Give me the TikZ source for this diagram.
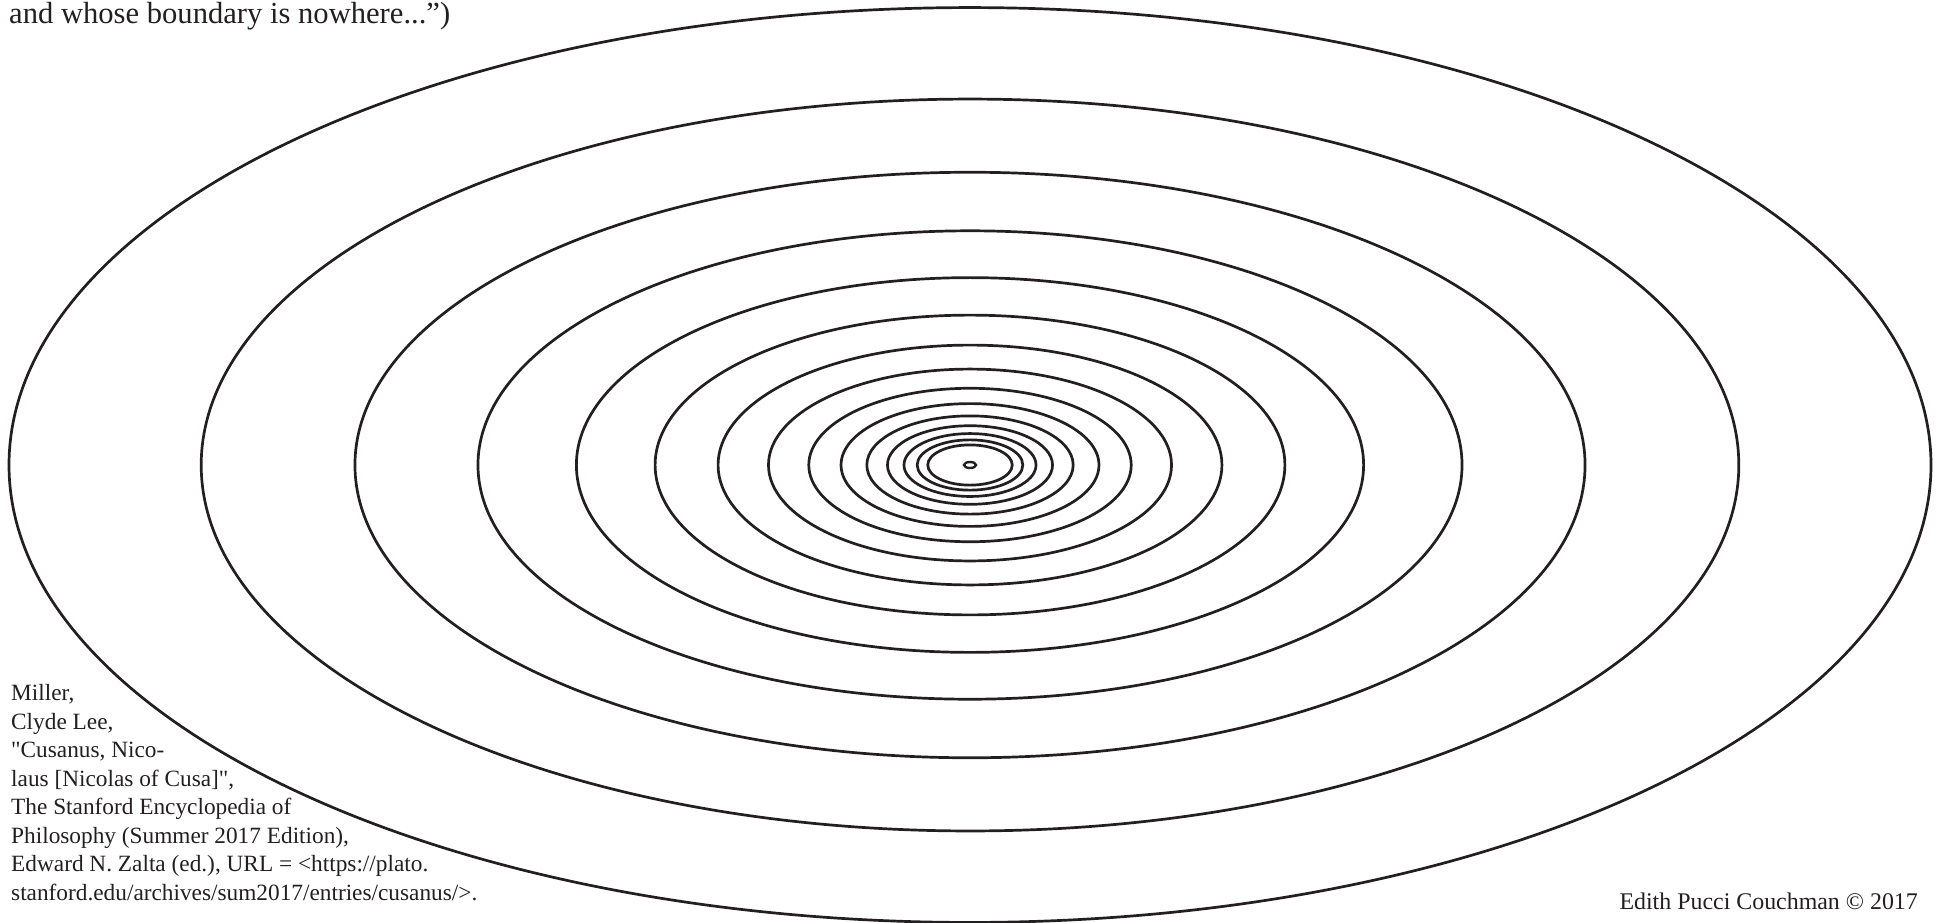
\documentclass[tikz,border=0pt]{standalone}
\usepackage{fontspec}
\setmainfont{Liberation Serif}[Ligatures=TeXOff]
\definecolor{ink}{RGB}{35,31,32}
\begin{document}
\begin{tikzpicture}[x=1pt,y=-1pt,
  ring/.style={draw=ink,line width=2.7pt},
  txt/.style={inner sep=0pt,text=ink,align=left}]
\useasboundingbox (0,0) rectangle (1946,922);
\coordinate (c) at (970,465);
\foreach \n in {0,...,14}{
  \pgfmathsetmacro\rx{961*0.8^\n}
  \pgfmathsetmacro\ry{0.476*\rx}
  \draw[ring] (c) ellipse [x radius=\rx pt, y radius=\ry pt];
}
\draw[ring,line width=2.4pt] (c) ellipse [x radius=6pt, y radius=3pt];
\node[txt,anchor=base west,font=\fontsize{30.6}{34}\selectfont] (top) at (9,23)
  {and whose boundary is nowhere...”)};
\node[txt,anchor=base west,font=\fontsize{23.3}{28.5}\selectfont] (cite) at (11,900)
  {Miller,\\ Clyde Lee,\\ "Cusanus, Nico-\\ laus [Nicolas of Cusa]",\\ The Stanford Encyclopedia of\\ Philosophy (Summer 2017 Edition),\\ Edward N. Zalta (ed.), URL = <https://plato.\\ stanford.edu/archives/sum2017/entries/cusanus/>.};
\node[txt,anchor=base east,font=\fontsize{23.9}{28}\selectfont] (credit) at (1918,909)
  {Edith Pucci Couchman © 2017};
\end{tikzpicture}
\end{document}
